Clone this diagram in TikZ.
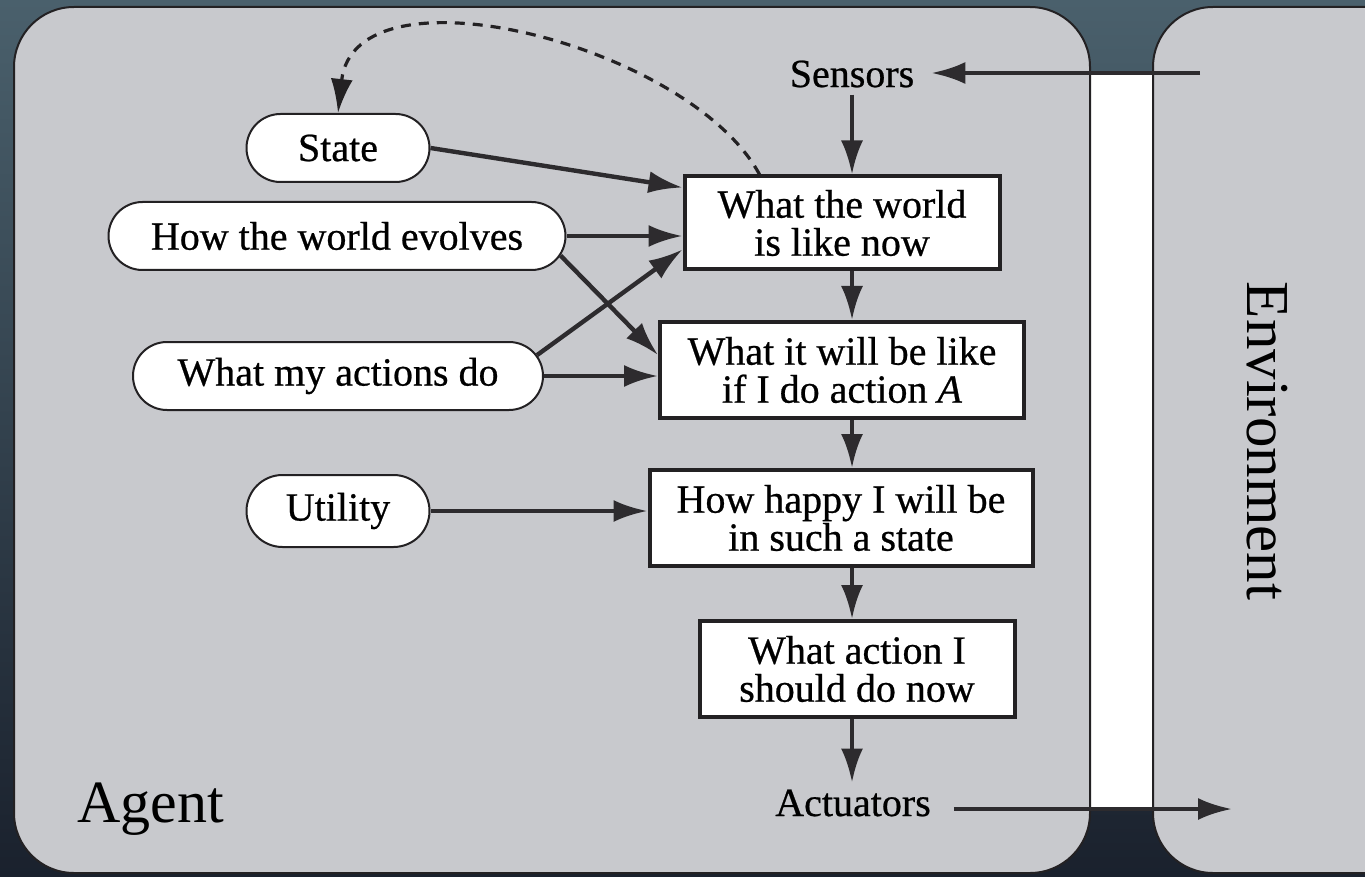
\documentclass[tikz,border=0pt]{standalone}
\usepackage{fontspec}
\setmainfont{Liberation Serif}
\newfontfamily\nodefont{Liberation Serif}[FakeBold=0.6]
\usetikzlibrary{arrows.meta,shapes.misc,calc}
\definecolor{bgtop}{RGB}{74,96,108}
\definecolor{bgbot}{RGB}{26,33,45}
\definecolor{panel}{RGB}{200,201,205}
\definecolor{ink}{RGB}{35,33,35}
\definecolor{linegray}{RGB}{45,43,46}
\tikzset{
  nfont/.style={font=\fontsize{20}{19}\selectfont\nodefont\addfontfeature{FakeBold=0.6}},
  pill/.style={rounded rectangle, draw=ink, line width=1pt, fill=white,
    minimum height=34pt, inner sep=0pt, nfont},
  box/.style={rectangle, draw=ink, line width=2pt, fill=white, align=center,
    inner sep=0pt, nfont},
  lbl/.style={nfont},
  arr/.style={draw=linegray, line width=2.2pt, -{Latex[length=17pt,width=11pt]}},
  dasharr/.style={draw=ink, line width=1.6pt, dash pattern=on 5pt off 4pt,
    -{Latex[length=17pt,width=11pt]}},
  panelbox/.style={fill=panel, draw=ink, line width=1pt, rounded corners=30pt}
}
\begin{document}
\begin{tikzpicture}[x=0.5pt,y=-0.5pt]
\useasboundingbox (0,0) rectangle (1365,877);
\clip (0,0) rectangle (1365,877);
\shade[top color=bgtop, bottom color=bgbot] (0,0) rectangle (1365,877);
% white strip between agent and environment
\fill[white] (1090,73) rectangle (1153,809);
% agent and environment panels
\draw[panelbox] (14,7) rectangle (1090,873);
\draw[panelbox] (1153,7) rectangle (1460,873);

% labels
\node[font=\fontsize{30}{30}\selectfont, anchor=base west, inner sep=0pt] (agent) at (77,822) {Agent};
\node[font=\fontsize{30.5}{30}\selectfont, anchor=base, inner sep=0pt, rotate=-90] (env) at (1247,441) {Environment};
\node[lbl] (sensors) at (852,74) {Sensors};
\node[lbl] (actuators) at (853,803) {Actuators};

% pills
\node[pill, minimum width=91.5pt] (state) at (338,148) {State};
\node[pill, minimum width=228.5pt] (evolves) at (337,236) {How the world evolves};
\node[pill, minimum width=205pt] (actions) at (338,376) {What my actions do};
\node[pill, minimum width=91.5pt, minimum height=36pt] (utility) at (338,511) {Utility};

% boxes
\node[box, minimum width=157.5pt, minimum height=46.5pt] (world) at (842,223) {What the world\\is like now};
\node[box, minimum width=182pt, minimum height=48pt] (predict) at (842,370) {What it will be like\\if I do action \textit{A}};
\node[box, minimum width=191.5pt, minimum height=48pt] (happy) at (841,518) {How happy I will be\\in such a state};
\node[box, minimum width=157.5pt, minimum height=48pt] (action) at (857,669) {What action I\\should do now};

% environment connections
\coordinate (sensin) at (1200,73);
\coordinate (actout) at (1232,809);
\draw[arr, shorten >=5pt] (sensin) -- (sensors.east |- sensin);
\draw[arr, shorten <=8pt] (actuators.east |- actout) -- (actout);

% vertical chain
\draw[arr] (sensors.south) -- (sensors.south |- world.north);
\draw[arr] (world.south -| sensors) -- (predict.north -| sensors);
\draw[arr] (predict.south -| sensors) -- (happy.north -| sensors);
\draw[arr] (happy.south -| sensors) -- (action.north -| sensors);
\draw[arr] (action.south -| sensors) -- (actuators.north -| sensors);

% inputs
\draw[arr] (state.east) -- ($(world.north west)+(0,13)$);
\draw[arr] (evolves.east) -- (evolves.east -| world.west);
\draw[arr] (evolves.-5) -- ($(predict.north west)+(0,35)$);
\draw[arr] (actions.6) -- ($(world.north west)+(0,75)$);
\draw[arr] (actions.east) -- (actions.east -| predict.west);
\draw[arr] (utility.east) -- (utility.east -| happy.west);

% dashed feedback
\draw[dasharr] ($(world.north west)+(77,0)$) .. controls (690,45) and (355,-40) .. (state.north);
\end{tikzpicture}
\end{document}
